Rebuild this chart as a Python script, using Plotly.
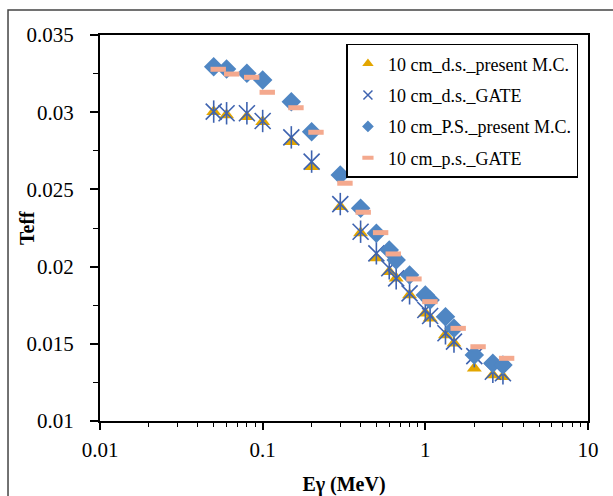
import plotly.graph_objects as go

# Energies (MeV) for the present M.C. series
e_mc = [0.05, 0.06, 0.08, 0.1, 0.15, 0.2, 0.3, 0.4, 0.5, 0.6, 0.662, 0.8, 1.0, 1.07, 1.33, 1.5, 2.0, 2.6, 3.0]

# 10 cm_d.s._present M.C.
ds_mc = [0.03003, 0.02982, 0.02971, 0.02938, 0.02809, 0.02647, 0.02388, 0.02218, 0.02056, 0.01967,
         0.01924, 0.01816, 0.01698, 0.01665, 0.01557, 0.01503, 0.01341, 0.01298, 0.01287]

# 10 cm_d.s._GATE
ds_gate = [0.03004, 0.02993, 0.02993, 0.02943, 0.02837, 0.02680, 0.02405, 0.02226, 0.02086, 0.01989,
           0.01924, 0.01827, 0.01719, 0.01680, 0.01568, 0.01514, 0.01420, 0.01319, 0.01309]

# 10 cm_P.S._present M.C.
ps_mc = [0.03295, 0.03280, 0.03252, 0.03209, 0.03068, 0.02874, 0.02593, 0.02378, 0.02216, 0.02108,
         0.02043, 0.01946, 0.01816, 0.01784, 0.01676, 0.01600, 0.01427, 0.01374, 0.01363]

# 10 cm_p.s._GATE
e_ps_gate = [0.0533, 0.0645, 0.0856, 0.1067, 0.1602, 0.2127, 0.3205, 0.415, 0.531, 0.635, 0.851, 1.067, 1.592, 2.11, 3.16]
ps_gate = [0.03278, 0.03247, 0.03226, 0.03129, 0.03029, 0.02870, 0.02540, 0.02352, 0.02220, 0.02082,
           0.01920, 0.01773, 0.01600, 0.01481, 0.01406]

series_names = ["10 cm_d.s._present M.C.", "10 cm_d.s._GATE", "10 cm_P.S._present M.C.", "10 cm_p.s._GATE"]

x_tickvals = [0.01, 0.1, 1, 10]
x_ticktext = ["0.01", "0.1", "1", "10"]
y_tickvals = [0.01, 0.015, 0.02, 0.025, 0.03, 0.035]
y_ticktext = ["0.01", "0.015", "0.02", "0.025", "0.03", "0.035"]

FONT = "Liberation Serif, Times New Roman, serif"
GOLD = "#E3A600"
BLUE_X = "#3E63B0"
BLUE_D = "#4F86C3"
SALMON = "#F4A98E"

fig = go.Figure()

# data traces (legend shown via small legend-only twins below)
fig.add_trace(go.Scatter(
    x=e_mc, y=ds_mc, mode="markers", name=series_names[0], showlegend=False,
    marker=dict(symbol="triangle-up", size=13, color=GOLD, line=dict(width=0))))
fig.add_trace(go.Scatter(
    x=e_mc, y=ds_gate, mode="markers", name=series_names[1], showlegend=False,
    marker=dict(symbol="x-thin-open", size=16, color=BLUE_X, line=dict(width=1.6, color=BLUE_X))))
fig.add_trace(go.Scatter(
    x=e_mc, y=ds_gate, mode="markers", name=series_names[1], showlegend=False,
    marker=dict(symbol="line-ns-open", size=16, color=BLUE_X, line=dict(width=1.6, color=BLUE_X))))
fig.add_trace(go.Scatter(
    x=e_mc, y=ps_mc, mode="markers", name=series_names[2], showlegend=False,
    marker=dict(symbol="diamond", size=15, color=BLUE_D, line=dict(width=0))))
fig.add_trace(go.Scatter(
    x=e_ps_gate, y=ps_gate, mode="markers", name=series_names[3], showlegend=False,
    marker=dict(symbol="line-ew-open", size=11, color=SALMON, line=dict(width=5, color=SALMON))))

# legend entries with small symbols
legend_markers = [
    dict(symbol="triangle-up", size=10, color=GOLD, line=dict(width=0)),
    dict(symbol="x-thin-open", size=9, color=BLUE_X, line=dict(width=1.5, color=BLUE_X)),
    dict(symbol="diamond", size=9, color=BLUE_D, line=dict(width=0)),
    dict(symbol="line-ew-open", size=8, color=SALMON, line=dict(width=4, color=SALMON)),
]
for i, (nm, mk) in enumerate(zip(series_names, legend_markers)):
    fig.add_trace(go.Scatter(x=[None], y=[None], mode="markers", name=nm,
                             legendgroup=str(i), marker=mk))

fig.update_layout(
    width=613, height=496,
    margin=dict(l=100, r=25, t=35, b=75),
    paper_bgcolor="white", plot_bgcolor="white",
    font=dict(family=FONT, size=21, color="black"),
    legend=dict(
        x=0.505, y=0.977, xanchor="left", yanchor="top",
        bgcolor="white", bordercolor="black", borderwidth=1.5,
        font=dict(family=FONT, size=18, color="black"),
        traceorder="grouped", tracegroupgap=5, itemwidth=30,
    ),
    shapes=[dict(type="rect", xref="paper", yref="paper",
                 x0=-0.1885, y0=-0.25, x1=1.2, y1=1.0648,
                 line=dict(color="#444444", width=1.5), layer="below")],
    annotations=[dict(text="<b>Teff</b>", textangle=-90, xref="paper", yref="paper",
                      x=(27 - 100) / 488, y=0.5, xanchor="center", yanchor="middle",
                      showarrow=False, font=dict(family=FONT, size=20, color="black"))],
)

fig.update_xaxes(
    type="log", range=[-2, 1], automargin=False,
    tickmode="array", tickvals=x_tickvals, ticktext=x_ticktext,
    ticks="outside", ticklen=7, tickwidth=1.5, tickcolor="black",
    minor=dict(ticks="outside", ticklen=4, tickwidth=1.2, tickcolor="black", dtick="D1", showgrid=False),
    showline=True, linecolor="black", linewidth=2, mirror=True,
    showgrid=False, zeroline=False, ticklabelstandoff=2,
    tickfont=dict(family=FONT, size=21),
    title=dict(text="<b>Eγ (MeV)</b>", font=dict(family=FONT, size=20), standoff=20),
)

fig.update_yaxes(
    range=[0.01, 0.035], automargin=False,
    tickmode="array", tickvals=y_tickvals, ticktext=y_ticktext,
    ticks="outside", ticklen=8, tickwidth=1.5, tickcolor="black",
    minor=dict(ticks="outside", ticklen=5, tickwidth=1.2, tickcolor="black",
               tickvals=[0.0125, 0.0175, 0.0225, 0.0275, 0.0325], showgrid=False),
    showline=True, linecolor="black", linewidth=2, mirror=True,
    showgrid=False, zeroline=False, ticklabelstandoff=12,
    tickfont=dict(family=FONT, size=21),
)

fig.write_html("out.html", config={"displayModeBar": False},
               post_script="document.body.style.margin='0px';")
